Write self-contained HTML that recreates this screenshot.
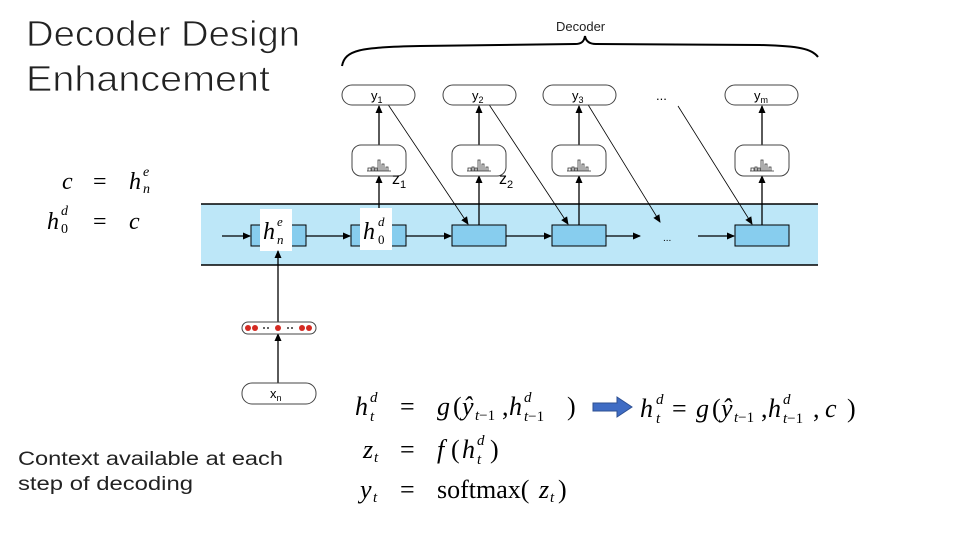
<!DOCTYPE html>
<html><head><meta charset="utf-8"><style>
html,body{margin:0;padding:0;background:#fff;}
svg{display:block;}
.m{font-family:"Liberation Serif",serif;font-style:italic;}
.r{font-family:"Liberation Serif",serif;}
.s{font-family:"Liberation Sans",sans-serif;}
</style></head><body>
<svg width="960" height="540" viewBox="0 0 960 540" xmlns="http://www.w3.org/2000/svg">
<defs>
<marker id="a" markerWidth="8" markerHeight="8" refX="7" refY="4" orient="auto" markerUnits="userSpaceOnUse"><path d="M0,0.5 L8,4 L0,7.5z" fill="#000"/></marker>
</defs>
<text x="26" y="46" class="s" font-size="36" textLength="274" lengthAdjust="spacingAndGlyphs" fill="#222" stroke="#fff" stroke-width="0.8" paint-order="normal">Decoder Design</text>
<text x="26" y="91" class="s" font-size="36" textLength="244" lengthAdjust="spacingAndGlyphs" fill="#222" stroke="#fff" stroke-width="0.8">Enhancement</text>

<text x="556" y="31" class="s" font-size="13" fill="#222">Decoder</text>
<path d="M342,66 C345,50 360,47 420,46 L575,44 C581,44 584,42 585,36 C586,42 590,44 596,44 L760,45 C800,46 812,49 818,57" fill="none" stroke="#000" stroke-width="2"/>

<rect x="201" y="204" width="617" height="61" fill="#bde7f8"/>
<line x1="201" y1="204" x2="818" y2="204" stroke="#000" stroke-width="1.5"/>
<line x1="201" y1="265" x2="818" y2="265" stroke="#000" stroke-width="1.5"/>

<g fill="#87cdee" stroke="#000" stroke-width="1">
<rect x="251" y="225" width="55" height="21"/>
<rect x="351" y="225" width="55" height="21"/>
<rect x="452" y="225" width="54" height="21"/>
<rect x="552" y="225" width="54" height="21"/>
<rect x="735" y="225" width="54" height="21"/>
</g>
<rect x="260" y="209" width="32" height="42" fill="#fff"/>
<rect x="360" y="208" width="32" height="42" fill="#fff"/>
<text x="263" y="239" class="m" font-size="24">h</text><text x="277" y="226" class="m" font-size="13">e</text><text x="277" y="244" class="m" font-size="13">n</text>
<text x="363" y="239" class="m" font-size="24">h</text><text x="378" y="226" class="m" font-size="13">d</text><text x="378" y="244" class="r" font-size="13">0</text>
<text x="663" y="241" class="s" font-size="10">...</text>

<g stroke="#000" stroke-width="1.3" marker-end="url(#a)">
<line x1="222" y1="236" x2="250" y2="236"/>
<line x1="306" y1="236" x2="350" y2="236"/>
<line x1="406" y1="236" x2="451" y2="236"/>
<line x1="506" y1="236" x2="551" y2="236"/>
<line x1="606" y1="236" x2="640" y2="236"/>
<line x1="698" y1="236" x2="734" y2="236"/>
<line x1="278" y1="383" x2="278" y2="334"/>
<line x1="278" y1="322" x2="278" y2="251"/>
<line x1="379" y1="208" x2="379" y2="176"/>
<line x1="479" y1="225" x2="479" y2="176"/>
<line x1="579" y1="225" x2="579" y2="176"/>
<line x1="762" y1="225" x2="762" y2="176"/>
<line x1="379" y1="145" x2="379" y2="106"/>
<line x1="479" y1="145" x2="479" y2="106"/>
<line x1="579" y1="145" x2="579" y2="106"/>
<line x1="762" y1="145" x2="762" y2="106"/>
</g>
<g stroke="#000" stroke-width="0.8" marker-end="url(#a)">
<line x1="387" y1="103" x2="468" y2="224"/>
<line x1="488" y1="103" x2="568" y2="224"/>
<line x1="587" y1="103" x2="660" y2="222"/>
<line x1="678" y1="106" x2="752" y2="224"/>
</g>

<g fill="#fff" stroke="#444" stroke-width="1">
<rect x="342" y="85" width="73" height="20" rx="10"/>
<rect x="443" y="85" width="73" height="20" rx="10"/>
<rect x="543" y="85" width="73" height="20" rx="10"/>
<rect x="725" y="85" width="73" height="20" rx="10"/>
<rect x="352" y="145" width="54" height="31" rx="9"/>
<rect x="452" y="145" width="54" height="31" rx="9"/>
<rect x="552" y="145" width="54" height="31" rx="9"/>
<rect x="735" y="145" width="54" height="31" rx="9"/>
<rect x="242" y="322" width="74" height="12" rx="6"/>
<rect x="242" y="383" width="74" height="21" rx="10"/>
</g>
<g class="s" font-size="13">
<text x="371" y="100">y<tspan font-size="9" dy="3">1</tspan></text>
<text x="472" y="100">y<tspan font-size="9" dy="3">2</tspan></text>
<text x="572" y="100">y<tspan font-size="9" dy="3">3</tspan></text>
<text x="754" y="100">y<tspan font-size="9" dy="3">m</tspan></text>
<text x="270" y="398">x<tspan font-size="9" dy="3">n</tspan></text>
<text x="656" y="100">...</text>
</g>
<g fill="none" stroke="#333" stroke-width="0.8" id="h">
<path d="M368,171 v-3 h3 v3 M372,171 v-4 h2 v4 M375,171 v-3 h2 v3 M378,171 v-11 h2 v11 M382,171 v-7 h2 v7 M386,171 v-4 h2 v4 M367,171 h24"/>
</g>
<use href="#h" x="100"/><use href="#h" x="200"/><use href="#h" x="383"/>
<text x="392" y="184" class="s" font-size="16">z<tspan font-size="11" dy="4">1</tspan></text>
<text x="499" y="184" class="s" font-size="16">z<tspan font-size="11" dy="4">2</tspan></text>
<g fill="#d42a22">
<circle cx="248" cy="328" r="3"/><circle cx="255" cy="328" r="3"/><circle cx="278" cy="328" r="3"/><circle cx="302" cy="328" r="3"/><circle cx="309" cy="328" r="3"/>
</g>
<g fill="#333"><circle cx="264" cy="328" r="1"/><circle cx="268" cy="328" r="1"/><circle cx="288" cy="328" r="1"/><circle cx="292" cy="328" r="1"/></g>

<text x="62" y="189" class="m" font-size="24">c</text>
<text x="93" y="189" class="r" font-size="24">=</text>
<text x="129" y="189" class="m" font-size="24">h</text><text x="143" y="176" class="m" font-size="14">e</text><text x="143" y="193" class="m" font-size="14">n</text>
<text x="47" y="229" class="m" font-size="24">h</text><text x="61" y="215" class="m" font-size="14">d</text><text x="61" y="233" class="r" font-size="14">0</text>
<text x="93" y="229" class="r" font-size="24">=</text>
<text x="129" y="229" class="m" font-size="24">c</text>

<!-- row 1 -->
<g font-size="26">
<text x="355" y="415" class="m">h</text><text x="370" y="402" class="m" font-size="15">d</text><text x="370" y="421" class="m" font-size="15">t</text>
<text x="400" y="415" class="r">=</text>
<text x="437" y="415" class="m">g</text><text x="453" y="415" class="r">(</text><text x="462" y="415" class="m">ŷ</text>
<text x="475" y="420" class="r" font-size="15"><tspan class="m">t</tspan>−1</text><text x="502" y="415" class="r">,</text>
<text x="509" y="415" class="m">h</text><text x="524" y="402" class="m" font-size="15">d</text><text x="524" y="421" class="r" font-size="15"><tspan class="m">t</tspan>−1</text>
<text x="567" y="415" class="r">)</text>

<text x="640" y="417" class="m">h</text><text x="656" y="404" class="m" font-size="15">d</text><text x="656" y="423" class="m" font-size="15">t</text>
<text x="672" y="417" class="r">=</text>
<text x="696" y="417" class="m">g</text><text x="712" y="417" class="r">(</text><text x="721" y="417" class="m">ŷ</text>
<text x="734" y="422" class="r" font-size="15"><tspan class="m">t</tspan>−1</text><text x="761" y="417" class="r">,</text>
<text x="768" y="417" class="m">h</text><text x="783" y="404" class="m" font-size="15">d</text><text x="783" y="423" class="r" font-size="15"><tspan class="m">t</tspan>−1</text>
<text x="813" y="417" class="r">,</text><text x="825" y="417" class="m">c</text><text x="847" y="417" class="r">)</text>

<text x="363" y="458" class="m">z</text><text x="374" y="462" class="m" font-size="15">t</text>
<text x="400" y="458" class="r">=</text>
<text x="437" y="458" class="m">f</text><text x="451" y="458" class="r">(</text><text x="462" y="458" class="m">h</text>
<text x="477" y="445" class="m" font-size="15">d</text><text x="477" y="464" class="m" font-size="15">t</text><text x="490" y="458" class="r">)</text>

<text x="360" y="498" class="m">y</text><text x="373" y="502" class="m" font-size="15">t</text>
<text x="400" y="498" class="r">=</text>
<text x="437" y="498" class="r">softmax(</text><text x="539" y="498" class="m">z</text><text x="550" y="502" class="m" font-size="15">t</text><text x="558" y="498" class="r">)</text>
</g>
<path d="M593,403 H617 V397 L632,407 L617,417 V411 H593 Z" fill="#3f6cc4" stroke="#2d4f92" stroke-width="1"/>

<text x="18" y="465" class="s" font-size="19" fill="#222" textLength="265" lengthAdjust="spacingAndGlyphs">Context available at each</text>
<text x="18" y="490" class="s" font-size="19" fill="#222" textLength="175" lengthAdjust="spacingAndGlyphs">step of decoding</text>
</svg>
</body></html>
